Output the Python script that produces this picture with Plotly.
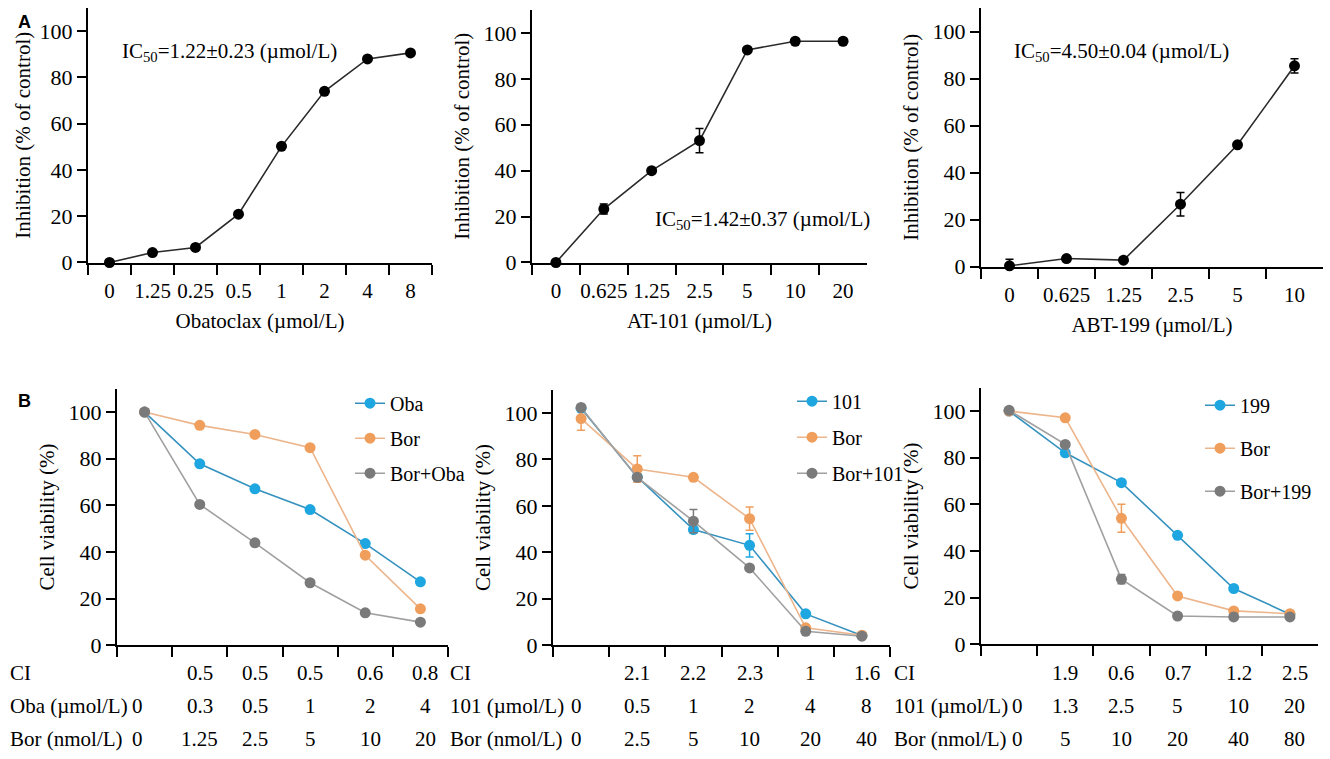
import plotly.graph_objects as go

# ---- A: single agent inhibition (% of control) ----
oba_doses = ["0", "1.25", "0.25", "0.5", "1", "2", "4", "8"]
oba_inhib = [0, 4.3, 6.5, 20.9, 50.2, 74.0, 88.0, 90.6]
oba_err = [0, 0, 0, 0, 0, 0, 0, 0]

at_doses = ["0", "0.625", "1.25", "2.5", "5", "10", "20"]
at_inhib = [0, 23.3, 40.0, 53.1, 92.6, 96.4, 96.4]
at_err = [0, 2.2, 0, 5.3, 0, 0, 0]

abt_doses = ["0", "0.625", "1.25", "2.5", "5", "10"]
abt_inhib = [0.3, 3.4, 2.7, 26.5, 51.8, 85.4]
abt_err = [2.8, 0, 0, 5.0, 0, 3.0]

ic50_text = ["IC<sub>50</sub>=1.22±0.23 (µmol/L)",
             "IC<sub>50</sub>=1.42±0.37 (µmol/L)",
             "IC<sub>50</sub>=4.50±0.04 (µmol/L)"]

# ---- B: combination cell viability (%) ----
b1_bor = ["0", "1.25", "2.5", "5", "10", "20"]
b1_drug = ["0", "0.3", "0.5", "1", "2", "4"]
b1_ci = ["", "0.5", "0.5", "0.5", "0.6", "0.8"]
b1_single = [100, 77.8, 67.1, 58.2, 43.6, 27.2]
b1_bor_only = [100, 94.3, 90.4, 84.7, 38.6, 15.6]
b1_combo = [100, 60.4, 43.9, 26.8, 13.9, 9.9]

b2_bor = ["0", "2.5", "5", "10", "20", "40"]
b2_drug = ["0", "0.5", "1", "2", "4", "8"]
b2_ci = ["", "2.1", "2.2", "2.3", "1", "1.6"]
b2_single = [102, 72.4, 49.8, 43.0, 13.5, 4.2]
b2_single_err = [0, 0, 0, 5.0, 0, 0]
b2_bor_only = [97.6, 75.9, 72.3, 54.5, 7.5, 4.3]
b2_bor_err = [5.0, 5.7, 0, 5.0, 0, 0]
b2_combo = [102.4, 72.3, 53.4, 33.3, 6.0, 3.9]
b2_combo_err = [0, 0, 5.0, 0, 0, 0]

b3_bor = ["0", "5", "10", "20", "40", "80"]
b3_drug = ["0", "1.3", "2.5", "5", "10", "20"]
b3_ci = ["", "1.9", "0.6", "0.7", "1.2", "2.5"]
b3_single = [100, 82.1, 69.3, 46.7, 23.9, 12.9]
b3_bor_only = [100, 97.1, 54.0, 20.7, 14.3, 13.1]
b3_bor_err = [0, 0, 6.0, 0, 0, 0]
b3_combo = [100.3, 85.7, 27.9, 12.1, 11.7, 11.7]
b3_combo_err = [0, 0, 2.0, 0, 0, 0]

W, H = 1330, 759
YS = 0.981  # the photographed page comes out squeezed vertically by about this much
SERIF = "Liberation Serif"
BLUE, BLUE_L = "#1ea6e0", "#3592bf"
ORANGE, ORANGE_L = "#f09e5c", "#ecb58c"
GREY, GREY_L = "#7a7a7a", "#a0a0a0"


def px(x):
    return x / W


def py(y):
    return 1 - (y / YS) / H


fig = go.Figure()


def inhib_trace(cats, vals, err, ax):
    fig.add_trace(go.Scatter(
        x=cats, y=vals, mode="lines+markers", xaxis="x" + ax, yaxis="y" + ax,
        line=dict(color="#2a2a2a", width=1.6),
        marker=dict(color="black", size=11),
        error_y=dict(type="data", array=err, color="black", thickness=1.5, width=4),
        showlegend=False, cliponaxis=False))


inhib_trace(oba_doses, oba_inhib, oba_err, "")
inhib_trace(at_doses, at_inhib, at_err, "2")
inhib_trace(abt_doses, abt_inhib, abt_err, "3")


def combo_traces(cats, series, ax, leg):
    for name, vals, err, mc, lc in series:
        fig.add_trace(go.Scatter(
            x=cats, y=vals, name=name, mode="lines+markers",
            xaxis="x" + ax, yaxis="y" + ax, legend=leg, legendgroup=name + ax,
            line=dict(color=lc, width=1.6),
            marker=dict(color=mc, size=11),
            error_y=dict(type="data", array=err, color=mc, thickness=1.5, width=4),
            cliponaxis=False))


zeros = [0] * 6
combo_traces(b1_bor, [("Oba", b1_single, zeros, BLUE, BLUE_L),
                      ("Bor", b1_bor_only, zeros, ORANGE, ORANGE_L),
                      ("Bor+Oba", b1_combo, zeros, GREY, GREY_L)], "4", "legend")
combo_traces(b2_bor, [("101", b2_single, b2_single_err, BLUE, BLUE_L),
                      ("Bor", b2_bor_only, b2_bor_err, ORANGE, ORANGE_L),
                      ("Bor+101", b2_combo, b2_combo_err, GREY, GREY_L)], "5", "legend2")
combo_traces(b3_bor, [("199", b3_single, zeros, BLUE, BLUE_L),
                      ("Bor", b3_bor_only, b3_bor_err, ORANGE, ORANGE_L),
                      ("Bor+199", b3_combo, b3_combo_err, GREY, GREY_L)], "6", "legend3")


def xaxis(x0, x1, cats, anchor, title=None, labels=True):
    d = dict(domain=[px(x0), px(x1)], anchor=anchor, type="category",
             categoryorder="array", categoryarray=cats, range=[-0.5, len(cats) - 0.5],
             tickson="boundaries", ticks="outside", ticklen=10, tickwidth=2, tickcolor="black",
             showline=True, linewidth=2, linecolor="black", showgrid=False, zeroline=False,
             showticklabels=labels, tickangle=0, ticklabelstandoff=8,
             tickfont=dict(family=SERIF, size=21))
    if title:
        d["title"] = dict(text=title, font=dict(family=SERIF, size=21), standoff=12)
    return d


def yaxis(y0, y1, anchor, title, standoff=8):
    return dict(domain=[py(y1), py(y0)], anchor=anchor, range=[0, 110], tick0=0, dtick=20,
                ticks="outside", ticklen=9, tickwidth=2, tickcolor="black",
                showline=True, linewidth=2, linecolor="black", showgrid=False, zeroline=False,
                tickfont=dict(family=SERIF, size=22),
                title=dict(text=title, font=dict(family=SERIF, size=21), standoff=standoff))


inh = "Inhibition (% of control)"
via = "Cell viability (%)"
fig.update_layout(
    xaxis=xaxis(88, 432, oba_doses, "y", "Obatoclax (µmol/L)"),
    yaxis=yaxis(8, 262, "x", inh, standoff=3),
    xaxis2=xaxis(532, 867, at_doses, "y2", "AT-101 (µmol/L)"),
    yaxis2=yaxis(10, 262, "x2", inh),
    xaxis3=xaxis(981, 1323, abt_doses, "y3", "ABT-199 (µmol/L)"),
    yaxis3=yaxis(8, 266, "x3", inh),
    xaxis4=xaxis(117, 448, b1_bor, "y4", labels=False),
    yaxis4=yaxis(388, 644, "x4", via),
    xaxis5=xaxis(553, 890, b2_bor, "y5", labels=False),
    yaxis5=yaxis(389, 644, "x5", via),
    xaxis6=xaxis(981, 1318, b3_bor, "y6", labels=False),
    yaxis6=yaxis(387, 643, "x6", via),
)

leg_common = dict(xanchor="left", yanchor="top", bgcolor="rgba(0,0,0,0)",
                  font=dict(family=SERIF, size=20, color="black"), traceorder="grouped")
fig.update_layout(
    legend=dict(x=px(350), y=py(383), tracegroupgap=6, **leg_common),
    legend2=dict(x=px(792), y=py(381), tracegroupgap=7, **leg_common),
    legend3=dict(x=px(1200), y=py(385), tracegroupgap=14, **leg_common),
)

ann = []
# panel letters
for letter, y in [("A", 22), ("B", 400)]:
    ann.append(dict(text="<b>%s</b>" % letter, x=px(24), y=py(y), xref="paper", yref="paper",
                    xanchor="center", yanchor="middle", showarrow=False,
                    font=dict(family="Liberation Sans", size=18, color="black")))
# IC50 labels
for txt, (x, y) in zip(ic50_text, [(120, 52), (653, 220), (1012, 52)]):
    ann.append(dict(text=txt, x=px(x), y=py(y), xref="paper", yref="paper",
                    xanchor="left", yanchor="middle", showarrow=False,
                    font=dict(family=SERIF, size=21)))

# tables under panel B
row_y = [672, 705, 738]
tables = [
    ("x4", 8, -7, ["CI", "Oba (µmol/L)", "Bor (nmol/L)"], [b1_ci, b1_drug, b1_bor]),
    ("x5", 448, -5, ["CI", "101 (µmol/L)", "Bor (nmol/L)"], [b2_ci, b2_drug, b2_bor]),
    ("x6", 892, 8, ["CI", "101 (µmol/L)", "Bor (nmol/L)"], [b3_ci, b3_drug, b3_bor]),
]
for xref, lx, zshift, labels, rows in tables:
    for lab, ry, vals in zip(labels, row_y, rows):
        ann.append(dict(text=lab, x=px(lx), y=py(ry), xref="paper", yref="paper",
                        xanchor="left", yanchor="middle", showarrow=False,
                        font=dict(family=SERIF, size=21)))
        for i, v in enumerate(vals):
            if v == "":
                continue
            ann.append(dict(text=v, x=i, y=py(ry), xref=xref, yref="paper",
                            xanchor="center", yanchor="middle", showarrow=False,
                            xshift=zshift if i == 0 else (5 if i >= 4 else 0),
                            font=dict(family=SERIF, size=21)))

fig.update_layout(
    annotations=ann,
    width=W, height=H,
    margin=dict(l=0, r=0, t=0, b=0),
    paper_bgcolor="white", plot_bgcolor="white",
    font=dict(family=SERIF, size=21, color="black"),
)

# page body has a default 8px margin and scrollbars; drop them so the figure fills the window
fig.write_html(
    "out.html",
    config={"displayModeBar": False},
    post_script="document.body.style.margin='0';"
                "document.documentElement.style.overflow='hidden';"
                "document.body.style.overflow='hidden';",
)
